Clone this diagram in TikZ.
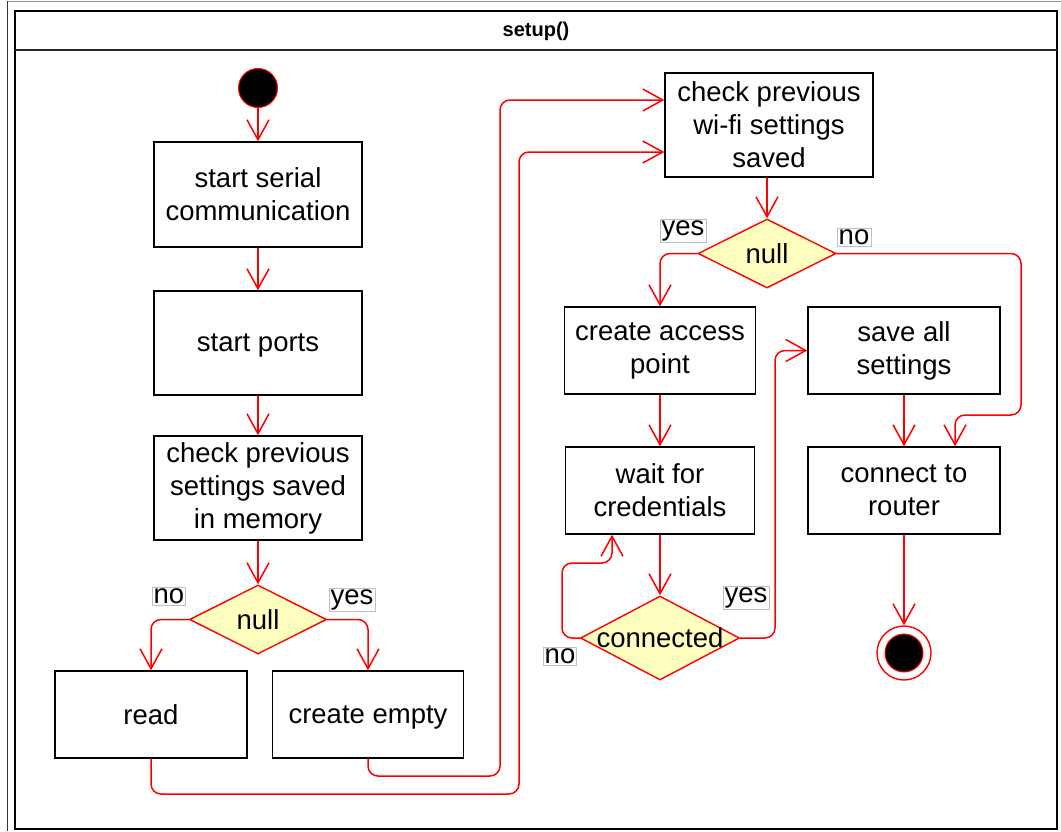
\documentclass[tikz,border=0pt]{standalone}
\usepackage{fontspec}
\setmainfont{Liberation Sans}
\usetikzlibrary{shapes.geometric,arrows.meta}

\definecolor{decfill}{HTML}{FFFFC0}
\definecolor{flowred}{HTML}{FF0000}

\begin{document}
\begin{tikzpicture}[x=1pt,y=-1pt,
  txt/.style={font=\fontsize{27.5}{33}\selectfont, align=center},
  actbox/.style={txt, draw=black, line width=1.4pt, fill=white, inner sep=0pt,
                 minimum width=#1},
  actbox/.default=208,
  oneline/.style={text depth=0pt},
  decision/.style={shape=diamond, draw=flowred, fill=decfill, line width=1.4pt,
                   inner sep=0pt},
  guard/.style={txt, draw=black!25, line width=0.6pt, fill=white, inner sep=1.5pt},
  flow/.style={draw=flowred, line width=1.5pt, rounded corners=10pt,
               -{Straight Barb[length=20pt,width=22pt,line width=1.5pt]}}
]
\useasboundingbox (0,0) rectangle (1061,831);

% page edges and swimlane frame
\draw[black!45, line width=0.8pt] (7,1) -- (1061,1);
\draw[black!80, line width=0.8pt] (7,1) -- (7,831);
\draw[black, line width=1.6pt] (15,11) rectangle (1057,829);
\draw[black!85, line width=1.6pt] (15,50) -- (1057,50);
\node[font=\fontsize{20}{24}\selectfont\bfseries] (title) at (536,31) {setup()};

% start / end states
\node[circle, fill=black, draw=flowred, line width=1pt, minimum size=39, inner sep=0pt] (start) at (258,88) {};
\node[circle, draw=flowred, fill=white, line width=1.4pt, minimum size=54, inner sep=0pt] (finish) at (904,653) {};
\node[circle, fill=black, draw=flowred, line width=1pt, minimum size=38, inner sep=0pt] (finishdot) at (904,653) {};

% left column
\node[actbox, minimum height=105] (s1) at (258,194.5) {start serial\\communication};
\node[actbox, oneline, minimum height=104] (s2) at (258,343) {start ports};
\node[actbox, minimum height=104] (s3) at (258,488) {check previous\\settings saved\\in memory};
\node[decision, minimum width=137, minimum height=69, label={[txt]center:null}] (d1) at (258,619.5) {};
\node[actbox=192, oneline, minimum height=87] (read) at (151,714.5) {read};
\node[actbox=191, oneline, minimum height=87] (empty) at (368,714.5) {create empty};

% right part
\node[actbox, minimum height=104] (wifi) at (769,125) {check previous\\wi-fi settings\\saved};
\node[decision, minimum width=138, minimum height=69, label={[txt]center:null}] (d2) at (767,253.5) {};
\node[actbox=191, minimum height=87] (ap) at (660,350.5) {create access\\point};
\node[actbox=189, minimum height=87] (wait) at (660,490.5) {wait for\\credentials};
\node[decision, minimum width=159, minimum height=84, label={[txt]center:connected}] (d3) at (660,638) {};
\node[actbox=192, minimum height=87] (save) at (904,350.5) {save all\\settings};
\node[actbox=192, minimum height=87] (router) at (904,490.5) {connect to\\router};

% guard labels
\node[guard] (g1no) at (169,596) {no};
\node[guard] (g1yes) at (352,600) {yes};
\node[guard] (g2yes) at (683,231) {yes};
\node[guard] (g2no) at (854,237) {no};
\node[guard] (g3yes) at (746,598) {yes};
\node[guard] (g3no) at (560,656) {no};

% waypoints of the long connectors
\coordinate (r1) at (151,794);
\coordinate (r2) at (519,794);
\coordinate (r3) at (519,152);
\coordinate (e1) at (368,776);
\coordinate (e2) at (500,776);
\coordinate (e3) at (500,100);
\coordinate (n1) at (1021,253.5);
\coordinate (n2) at (1021,415);
\coordinate (n3) at (955,415);
\coordinate (c1) at (562,638);
\coordinate (c2) at (562,563);
\coordinate (c3) at (612,563);
\coordinate (y1) at (775,638);
\coordinate (y2) at (775,350.5);

% connectors
\draw[flow] (start) -- (s1);
\draw[flow] (s1) -- (s2);
\draw[flow] (s2) -- (s3);
\draw[flow] (s3.south) -- (d1.north);
\draw[flow] (d1.west) -| (read.north);
\draw[flow] (d1.east) -| (empty.north);
\draw[flow] (read.south) -- (r1) -- (r2) -- (r3) -- (r3 -| wifi.west);
\draw[flow] (empty.south) -- (e1) -- (e2) -- (e3) -- (e3 -| wifi.west);
\draw[flow] (wifi.south -| d2.north) -- (d2.north);
\draw[flow] (d2.west) -| (ap.north);
\draw[flow] (d2.east) -- (n1) -- (n2) -- (n3) -- (n3 |- router.north);
\draw[flow] (ap.south) -- (wait.north);
\draw[flow] (wait.south) -- (d3.north);
\draw[flow] (d3.west) -- (c1) -- (c2) -- (c3) -- (c3 |- wait.south);
\draw[flow] (d3.east) -- (y1) -- (y2) -- (y2 -| save.west);
\draw[flow] (save) -- (router);
\draw[flow] (router.south -| finish.north) -- (finish.north);
\end{tikzpicture}
\end{document}
